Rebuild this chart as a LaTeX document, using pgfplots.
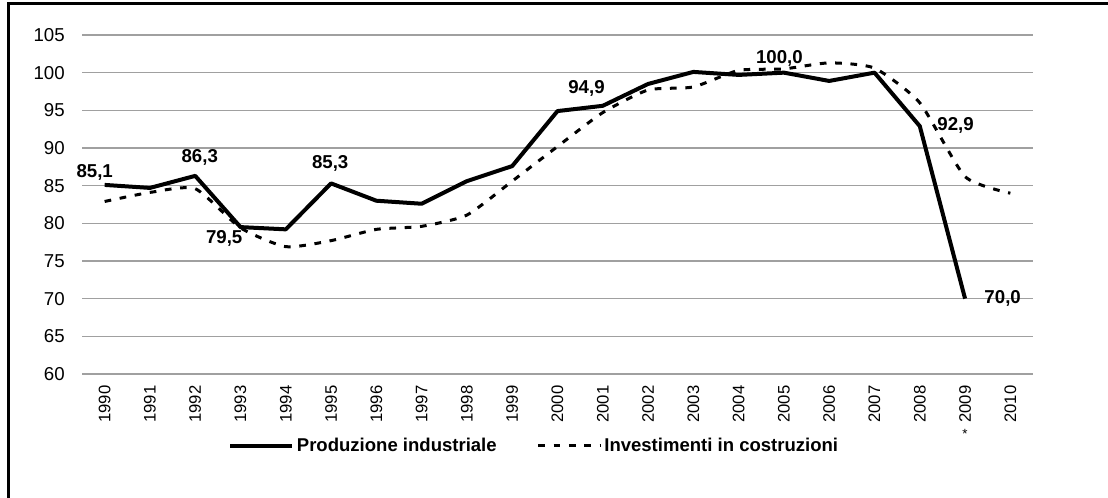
\documentclass[border=0pt]{standalone}
\usepackage{pgfplots}
\pgfplotsset{compat=1.18}
\usepackage{fontspec}
\setmainfont{Liberation Sans}
\definecolor{gridgray}{RGB}{160,160,160}
\begin{document}
\begin{tikzpicture}
\begin{axis}[
 at={(61.5pt,93pt)}, anchor=south west, scale only axis,
 width=713.25pt, height=254.25pt,
 xmin=-0.5, xmax=20.5, ymin=60, ymax=105,
 ytick={60,65,...,105},
 xtick={0,...,20},
 xticklabels={1990,1991,1992,1993,1994,1995,1996,1997,1998,1999,2000,2001,2002,2003,2004,2005,2006,2007,2008,2009,2010},
 axis line style={draw=none},
 major tick length=0pt,
 ymajorgrids, grid style={gridgray, line width=1.1pt},
 /pgf/number format/assume math mode=true,
 yticklabel style={font=\fontsize{14}{14}\selectfont, anchor=east, inner sep=0pt, xshift=-12.75pt},
 xticklabel style={font=\fontsize{12.5}{12.5}\selectfont, rotate=90, anchor=east, inner sep=0pt},
 xticklabel shift=8.5pt,
 clip=false,
 legend columns=2,
 legend style={draw=none, fill=none, at={(0.1535,-0.2124)}, anchor=west,
   font=\bfseries\fontsize{13.9}{13.9}\selectfont, inner sep=0pt,
   /tikz/every even column/.append style={column sep=28pt}},
 legend image code/.code={\draw[#1] (0pt,0pt) -- (46.5pt,0pt);},
]
\addplot[black, line width=3pt, line join=round] coordinates {
(0,85.1)(1,84.7)(2,86.3)(3,79.5)(4,79.2)(5,85.3)(6,83.0)(7,82.6)(8,85.6)(9,87.6)(10,94.9)(11,95.6)(12,98.5)(13,100.1)(14,99.7)(15,100.0)(16,98.9)(17,100.0)(18,92.9)(19,70.0)};
\addlegendentry{Produzione industriale}
\addplot[black, line width=2.25pt, dash pattern=on 5pt off 6.5pt, smooth, tension=0.35] coordinates {
(0,82.9)(1,84.1)(2,84.6)(3,79.4)(4,76.9)(5,77.7)(6,79.2)(7,79.6)(8,81.1)(9,85.6)(10,90.2)(11,94.7)(12,97.7)(13,98.1)(14,100.3)(15,100.5)(16,101.3)(17,100.6)(18,96.0)(19,86.2)(20,84.0)};
\addlegendentry{Investimenti in costruzioni}
\begin{scope}[every node/.style={font=\bfseries\fontsize{14}{14}\selectfont, inner sep=0pt}]
\node at (axis cs:-0.22,86.8) {85,1};
\node at (axis cs:2.1,88.8) {86,3};
\node at (axis cs:2.64,78.05) {79,5};
\node at (axis cs:4.98,87.94) {85,3};
\node at (axis cs:10.64,97.9) {94,9};
\node at (axis cs:14.9,101.95) {100,0};
\node at (axis cs:18.79,93.0) {92,9};
\node at (axis cs:19.83,70.0) {70,0};
\end{scope}
\node[font=\fontsize{10}{10}\selectfont, inner sep=0pt] at (axis cs:19,60) [yshift=-45pt] {*};
\end{axis}
\draw[line width=2.25pt] (6.4pt,-20pt) -- (6.4pt,370.9pt) -- (860pt,370.9pt);
\pgfresetboundingbox
\useasboundingbox (0,0) rectangle (831pt,373.5pt);
\end{tikzpicture}
\end{document}
